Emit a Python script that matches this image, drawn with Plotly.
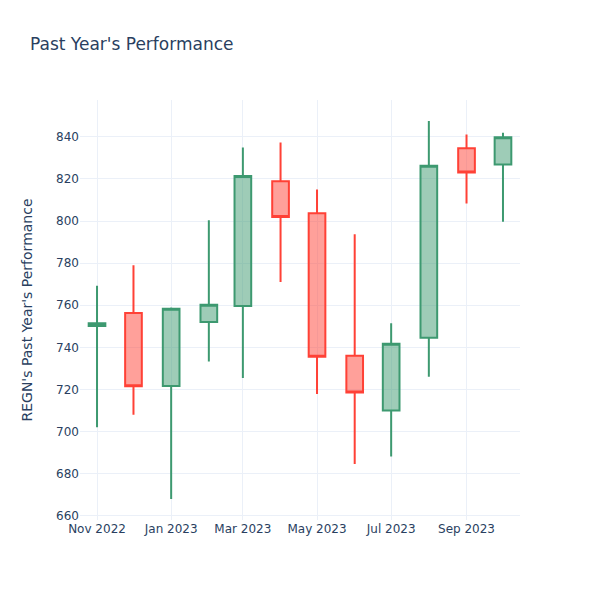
import plotly.graph_objects as go

dates = ["2022-11-01", "2022-12-01", "2023-01-01", "2023-02-01", "2023-03-01", "2023-04-01",
         "2023-05-01", "2023-06-01", "2023-07-01", "2023-08-01", "2023-09-01", "2023-10-01"]
open_ = [750.1, 756.3, 721.7, 752.0, 759.6, 818.9, 803.7, 736.0, 710.0, 744.6, 834.6, 826.8]
high = [769.3, 779.0, 758.9, 800.4, 834.9, 837.3, 815.0, 793.7, 751.5, 847.5, 841.1, 841.9]
low = [702.1, 708.0, 668.0, 733.3, 725.5, 771.0, 717.9, 684.6, 688.2, 726.1, 808.3, 799.7]
close = [751.4, 721.6, 758.3, 760.2, 821.4, 801.9, 735.5, 718.6, 741.7, 826.3, 823.0, 839.8]

fig = go.Figure(go.Candlestick(x=dates, open=open_, high=high, low=low, close=close))
fig.update_layout(
    template="plotly_white",
    font_family="DejaVu Sans",
    width=600, height=600,
    title="Past Year's Performance",
    yaxis_title="REGN's Past Year's Performance",
    yaxis_title_standoff=20,
    xaxis_rangeslider_visible=False,
)
fig.write_html("out.html", config={"displayModeBar": False},
               post_script="document.body.style.margin='0';")
